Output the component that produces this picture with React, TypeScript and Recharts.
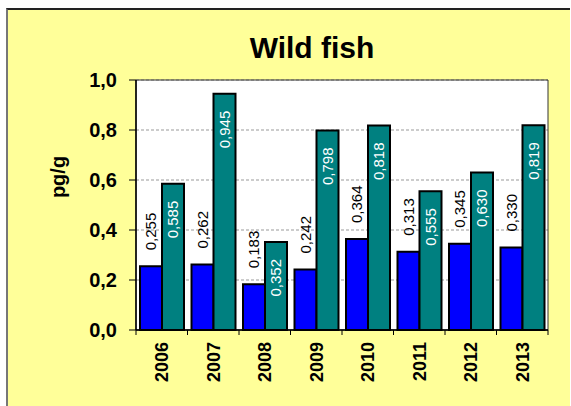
import React from 'react';
import { BarChart, Bar, XAxis, YAxis, CartesianGrid, LabelList, ReferenceArea } from 'recharts';

const years = ['2006', '2007', '2008', '2009', '2010', '2011', '2012', '2013'];
const blueValues = [0.255, 0.262, 0.183, 0.242, 0.364, 0.313, 0.345, 0.33];
const tealValues = [0.585, 0.945, 0.352, 0.798, 0.818, 0.555, 0.63, 0.819];
const yTicks = [0, 0.2, 0.4, 0.6, 0.8, 1.0];

const W = 571;
const H = 406;
const Y_AXIS_W = 60;
const X_AXIS_H = 60;
const margin = { top: 80, right: 23, bottom: 16, left: 136 - Y_AXIS_W };
const plotW = W - margin.left - Y_AXIS_W - margin.right;
const bandW = plotW / years.length;

const FONT = '"Liberation Sans", Arial, sans-serif';

const fmt = (v: number, digits: number) => v.toFixed(digits).replace('.', ',');

const chartData = years.map((year, i) => ({
  year,
  blue: blueValues[i],
  teal: tealValues[i],
}));

const YearTick = (props: any) => {
  const { x, y, payload, index } = props;
  const left = x - bandW / 2;
  return (
    <g>
      <line x1={left} y1={y} x2={left} y2={y + 5} stroke="#000" />
      {index === years.length - 1 && (
        <line x1={x + bandW / 2} y1={y} x2={x + bandW / 2} y2={y + 5} stroke="#000" />
      )}
      <text
        x={x}
        y={y + 12}
        transform={`rotate(-90, ${x}, ${y + 12})`}
        textAnchor="end"
        dy="0.35em"
        fontFamily={FONT}
        fontWeight="bold"
        fontSize={18}
        fill="#000"
      >
        {payload.value}
      </text>
    </g>
  );
};

const AboveLabel = (props: any) => {
  const { x, y, width, value } = props;
  const cx = x + width / 2;
  const cy = y - 16;
  return (
    <text x={cx} y={cy} transform={`rotate(-90, ${cx}, ${cy})`} textAnchor="start" dy="0.35em"
      fontFamily={FONT} fontSize={15} fill="#000">
      {fmt(value, 3)}
    </text>
  );
};

const InsideLabel = (props: any) => {
  const { x, y, width, value } = props;
  const cx = x + width / 2;
  const cy = y + 17;
  return (
    <text x={cx} y={cy} transform={`rotate(-90, ${cx}, ${cy})`} textAnchor="end" dy="0.35em"
      fontFamily={FONT} fontSize={15} fill="#fff">
      {fmt(value, 3)}
    </text>
  );
};

const App: React.FC = () => {
  return (
    <div style={{ position: 'absolute', left: 0, top: 0, width: W, height: H, overflow: 'hidden', background: '#fff' }}>
      <div
        style={{
          position: 'absolute',
          left: 6,
          top: 8,
          width: 564,
          height: 420,
          boxSizing: 'border-box',
          background: '#FFFF99',
          borderTop: '2px solid #222',
          borderLeft: '2px solid #777',
        }}
      />
      <svg width={W} height={H} style={{ position: 'absolute', left: 0, top: 0 }}>
        <text x={312} y={47} textAnchor="middle" dy="0.35em" fontFamily={FONT} fontWeight="bold" fontSize={30} fill="#000">
          Wild fish
        </text>
        <text x={58} y={177} transform="rotate(-90, 58, 177)" textAnchor="middle" dy="0.35em"
          fontFamily={FONT} fontWeight="bold" fontSize={20} fill="#000">
          pg/g
        </text>
      </svg>
      <div style={{ position: 'absolute', left: 0, top: 0 }}>
        <BarChart width={W} height={H} data={chartData} margin={margin} barGap={0} barCategoryGap={4}>
          <CartesianGrid vertical={false} fill="#fff" stroke="#999" strokeDasharray="3 2" />
          <XAxis
            dataKey="year"
            height={X_AXIS_H}
            axisLine={{ stroke: '#000', strokeWidth: 1.5 }}
            tickLine={false}
            tickSize={0}
            tickMargin={0}
            interval={0}
            tick={<YearTick />}
          />
          <YAxis
            width={Y_AXIS_W}
            domain={[0, 1]}
            ticks={yTicks}
            axisLine={{ stroke: '#000', strokeWidth: 1.5 }}
            tickLine={{ stroke: '#000' }}
            tickSize={7}
            tickMargin={12}
            tickFormatter={(v: number) => fmt(v, 1)}
            tick={{ fill: '#000', fontSize: 20, fontWeight: 'bold', fontFamily: FONT }}
          />
          <ReferenceArea y1={0} y2={1} fill="none" stroke="#333" strokeWidth={1} ifOverflow="visible" />
          <Bar dataKey="blue" fill="#0000FF" stroke="#000" strokeWidth={2} isAnimationActive={false}>
            <LabelList dataKey="blue" content={<AboveLabel />} />
          </Bar>
          <Bar dataKey="teal" fill="#008080" stroke="#000" strokeWidth={2} isAnimationActive={false}>
            <LabelList dataKey="teal" content={<InsideLabel />} />
          </Bar>
        </BarChart>
      </div>
    </div>
  );
};

export default App;
